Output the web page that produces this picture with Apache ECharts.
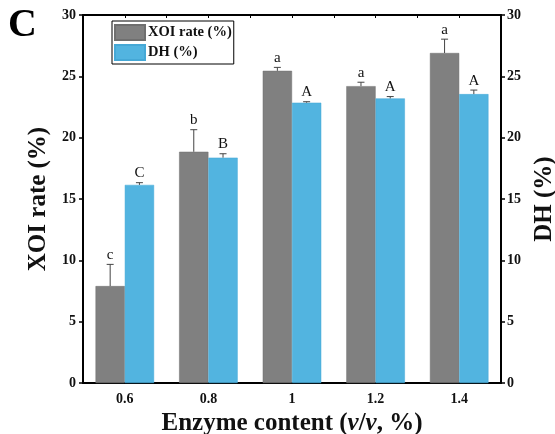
<!DOCTYPE html>
<html>
<head>
<meta charset="utf-8">
<script src="https://cdn.jsdelivr.net/npm/echarts@6/dist/echarts.min.js"></script>
<style>html,body{margin:0;padding:0;background:#fff}#c{width:555px;height:434px}</style>
</head>
<body>
<div id="c"></div>
<script>
var categories = ['0.6', '0.8', '1', '1.2', '1.4'];
var xoiRate = [7.9, 18.85, 25.45, 24.2, 26.9];
var xoiErr = [1.77, 1.8, 0.28, 0.32, 1.13];
var xoiLetters = ['c', 'b', 'a', 'a', 'a'];
var dhValues = [16.15, 18.37, 22.85, 23.2, 23.55];
var dhErr = [0.18, 0.32, 0.08, 0.15, 0.33];
var dhLetters = ['C', 'B', 'A', 'A', 'A'];
var yTicks = [0, 5, 10, 15, 20, 25, 30];

var FONT = '"Liberation Serif", "Times New Roman", serif';
var chart = echarts.init(document.getElementById('c'), null, {renderer: 'canvas'});

function errData(vals, errs, letters) {
  return vals.map(function (v, i) { return [i, v, v + errs[i], letters[i]]; });
}
function errRender(side) {
  return function (params, api) {
    var i = api.value(0);
    var top = api.coord([i, api.value(1)]);
    var hi = api.coord([i, api.value(2)]);
    var band = api.size([1, 0])[0];
    var x = top[0] + side * band * 0.175;
    var cap = 3.5;
    return {
      type: 'group',
      children: [
        {type: 'line', shape: {x1: x, y1: top[1], x2: x, y2: hi[1]}, style: {stroke: '#444', lineWidth: 1}},
        {type: 'line', shape: {x1: x - cap, y1: hi[1], x2: x + cap, y2: hi[1]}, style: {stroke: '#444', lineWidth: 1}},
        {type: 'text', style: {text: api.value(3), x: x, y: hi[1] - 2, textAlign: 'center', textVerticalAlign: 'bottom',
          font: '15px ' + FONT, fill: '#111'}}
      ]
    };
  };
}

var axisLabelStyle = {fontFamily: FONT, fontWeight: 'bold', fontSize: 14, color: '#111'};
var nameStyle = {fontFamily: FONT, fontWeight: 'bold', fontSize: 25, color: '#111'};

chart.setOption({
  animation: false,
  backgroundColor: '#fff',
  title: {text: 'C', left: 3, top: 1, textStyle: {fontFamily: FONT, fontWeight: 'bold', fontSize: 40, color: '#000'}},
  legend: {
    orient: 'vertical', left: 112, top: 21, itemWidth: 30, itemHeight: 15, itemGap: 3,
    padding: [3, 2, 3, 2], borderColor: '#000', borderWidth: 1, icon: 'rect',
    data: ['XOI rate (%)', 'DH (%)'],
    textStyle: {fontFamily: FONT, fontWeight: 'bold', fontSize: 14.5, lineHeight: 15, color: '#111', padding: [0, 0, 0, -2]}
  },
  grid: {left: 83, right: 54, top: 15, bottom: 51, containLabel: false, outerBoundsMode: 'none'},
  xAxis: [{
    type: 'category', data: categories,
    name: '{n|Enzyme content (}{i|v}{n|/}{i|v}{n|, %)}', nameLocation: 'middle', nameGap: 23,
    nameTextStyle: {verticalAlign: 'top', rich: {
      n: {fontFamily: FONT, fontWeight: 'bold', fontSize: 25, color: '#111'},
      i: {fontFamily: FONT, fontWeight: 'bold', fontStyle: 'italic', fontSize: 25, color: '#111'}}},
    axisLine: {lineStyle: {color: '#000', width: 2}},
    axisTick: {alignWithLabel: true, inside: true, length: 4, lineStyle: {color: '#000', width: 1.5}},
    axisLabel: Object.assign({margin: 9}, axisLabelStyle)
  }, {
    type: 'value', position: 'top', min: 0, max: 5, interval: 0.5,
    axisLine: {show: true, onZero: false, lineStyle: {color: '#000', width: 2}},
    axisTick: {show: true, inside: true, length: 3, lineStyle: {color: '#000', width: 1}},
    axisLabel: {show: false}, splitLine: {show: false}
  }],
  yAxis: [{
    type: 'value', min: 0, max: 30, interval: 5, position: 'left',
    name: 'XOI rate (%)', nameLocation: 'middle', nameGap: 29, nameRotate: 90, nameTextStyle: nameStyle,
    axisLine: {show: true, lineStyle: {color: '#000', width: 2}},
    axisTick: {show: true, length: 4, lineStyle: {color: '#000', width: 1.5}},
    axisLabel: Object.assign({margin: 7}, axisLabelStyle),
    splitLine: {show: false}
  }, {
    type: 'value', min: 0, max: 30, interval: 5, position: 'right',
    name: 'DH (%)', nameLocation: 'middle', nameGap: 27, nameRotate: 90, nameTextStyle: nameStyle,
    axisLine: {show: true, lineStyle: {color: '#000', width: 2}},
    axisTick: {show: true, length: 4, lineStyle: {color: '#000', width: 1.5}},
    axisLabel: Object.assign({margin: 6}, axisLabelStyle),
    splitLine: {show: false}
  }],
  series: [{
    name: 'XOI rate (%)', type: 'bar', data: xoiRate, yAxisIndex: 0,
    barGap: '0%', barCategoryGap: '30%',
    itemStyle: {color: '#808080', borderColor: '#6f6f6f', borderWidth: 0.5}
  }, {
    name: 'DH (%)', type: 'bar', data: dhValues, yAxisIndex: 1,
    barGap: '0%', barCategoryGap: '30%',
    itemStyle: {color: '#52B4E0', borderColor: '#45a8d6', borderWidth: 0.5}
  }, {
    type: 'custom', data: errData(xoiRate, xoiErr, xoiLetters), yAxisIndex: 0,
    renderItem: errRender(-1), encode: {x: 0, y: [1, 2]}, z: 5, silent: true
  }, {
    type: 'custom', data: errData(dhValues, dhErr, dhLetters), yAxisIndex: 1,
    renderItem: errRender(1), encode: {x: 0, y: [1, 2]}, z: 5, silent: true
  }]
});
</script>
</body>
</html>
